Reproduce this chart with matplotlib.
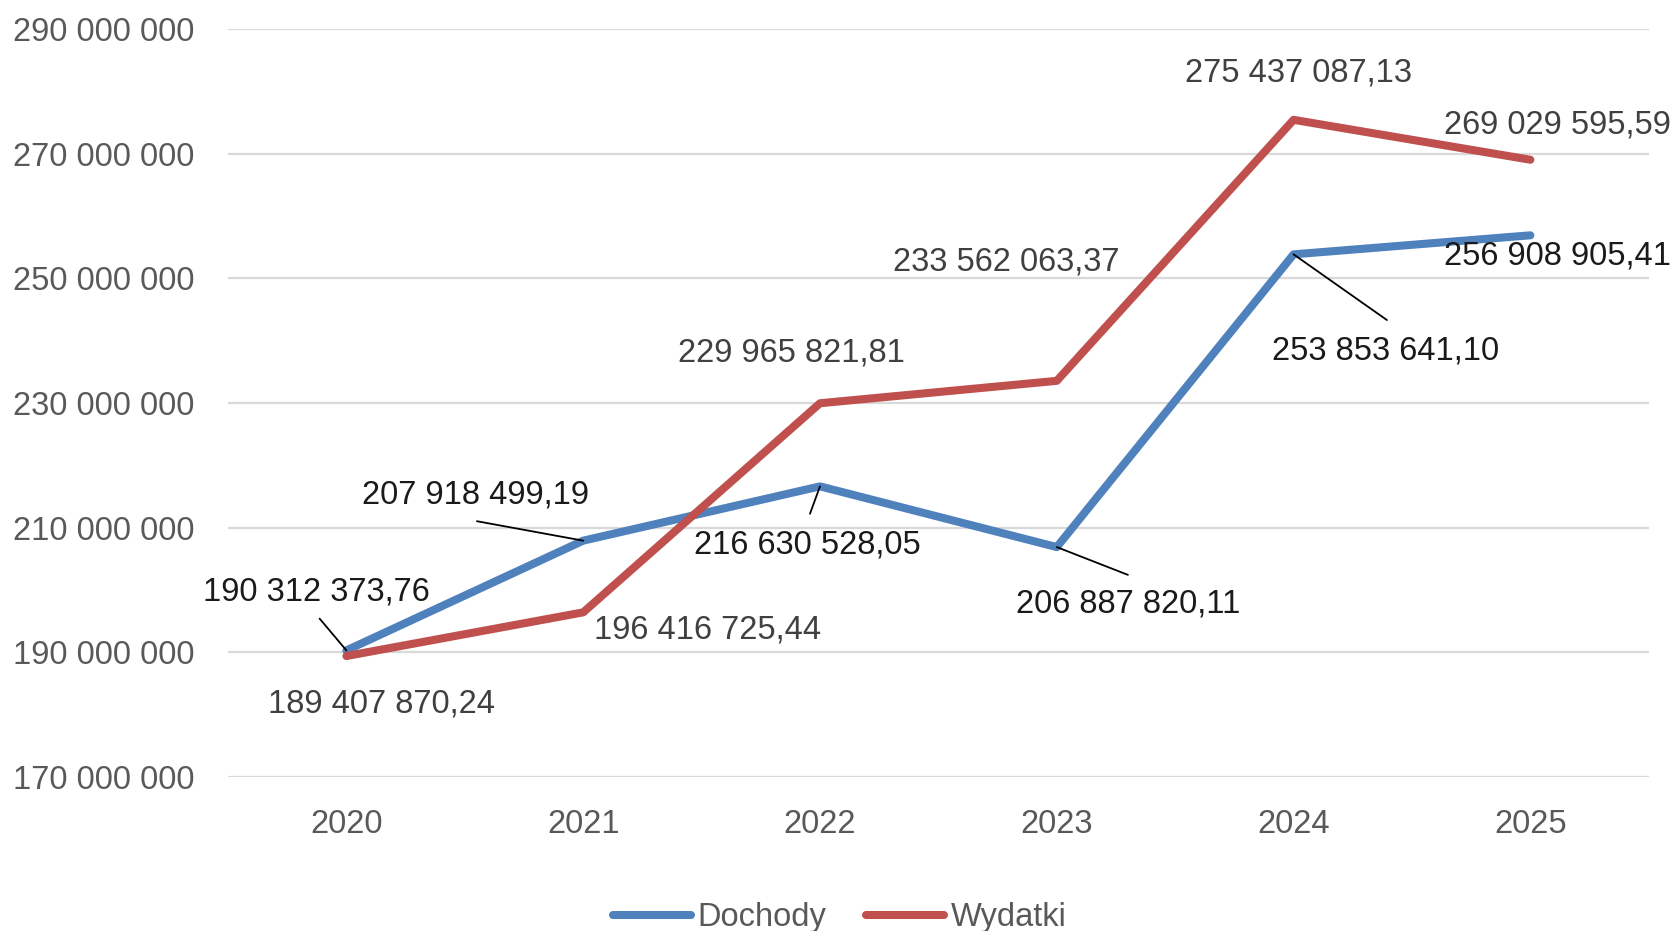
import matplotlib.pyplot as plt
from matplotlib.ticker import FuncFormatter

# dane
years = ["2020", "2021", "2022", "2023", "2024", "2025"]
dochody = [190312373.76, 207918499.19, 216630528.05, 206887820.11, 253853641.10, 256908905.41]
wydatki = [189407870.24, 196416725.44, 229965821.81, 233562063.37, 275437087.13, 269029595.59]

# przesunięcia etykiet (pt) względem punktu
off_doch = [(-21.6, 42.2), (-77.3, 33.2), (-8.8, -42.1), (51.2, -40.8), (66.5, -69.7), (19.3, -14.8)]
off_wyd = [(25.4, -34.8), (89.3, -13.0), (-20.3, 36.0), (-36.7, 85.4), (3.2, 33.8), (19.3, 24.8)]
# linie odniesienia dla etykiet Dochody (początek linii w pt)
leader_doch = [(-19.3, 22.9), (-76.5, 14.0), (-7.2, -19.7), (51.2, -20.0), (67.2, -47.3), None]

plt.rcParams['font.family'] = ['Liberation Sans', 'DejaVu Sans']
FS = 23.5

def fmt_pl(v, decimals=2):
    s = f"{v:,.{decimals}f}"
    return s.replace(",", " ").replace(".", ",")

fig = plt.figure(figsize=(16.79, 9.31), dpi=100)
ax = fig.add_axes([0.1358, 0.1654, 0.982 - 0.1358, 0.9688 - 0.1654])

x = list(range(len(years)))
ax.plot(x, dochody, color='#4F81BD', lw=5.8, solid_capstyle='round', label='Dochody', zorder=3)
ax.plot(x, wydatki, color='#C0504D', lw=5.8, solid_capstyle='round', label='Wydatki', zorder=3)

ax.set_xlim(-0.5, len(years) - 0.5)
ax.set_ylim(170000000, 290000000)
ax.set_yticks(range(170000000, 290000001, 20000000))
ax.yaxis.set_major_formatter(FuncFormatter(lambda v, p: fmt_pl(v, 0)))
ax.set_xticks(x)
ax.set_xticklabels(years)

for s in ax.spines.values():
    s.set_visible(False)
ax.grid(axis='y', color='#D9D9D9', lw=1.6)
ax.set_axisbelow(True)
ax.tick_params(axis='both', length=0, labelsize=FS, colors='#595959')
ax.tick_params(axis='y', pad=24)
ax.tick_params(axis='x', pad=23)

for i, v in enumerate(dochody):
    ax.annotate(fmt_pl(v), (i, v), xytext=off_doch[i], textcoords='offset points',
                ha='center', va='center', fontsize=FS, color='#1A1A1A', zorder=4)
    if leader_doch[i] is not None:
        ax.annotate('', (i, v), xytext=leader_doch[i], textcoords='offset points',
                    arrowprops=dict(arrowstyle='-', color='black', lw=1.3,
                                    shrinkA=0, shrinkB=0), zorder=4)

for i, v in enumerate(wydatki):
    ax.annotate(fmt_pl(v), (i, v), xytext=off_wyd[i], textcoords='offset points',
                ha='center', va='center', fontsize=FS, color='#404040', zorder=4)

fig.legend(loc='center', bbox_to_anchor=(0.5, 0.014), ncol=2, frameon=False,
           fontsize=FS, handlelength=2.4, handletextpad=0.2, columnspacing=1.2,
           labelcolor='#595959')

fig.savefig('out.png', dpi=100)
